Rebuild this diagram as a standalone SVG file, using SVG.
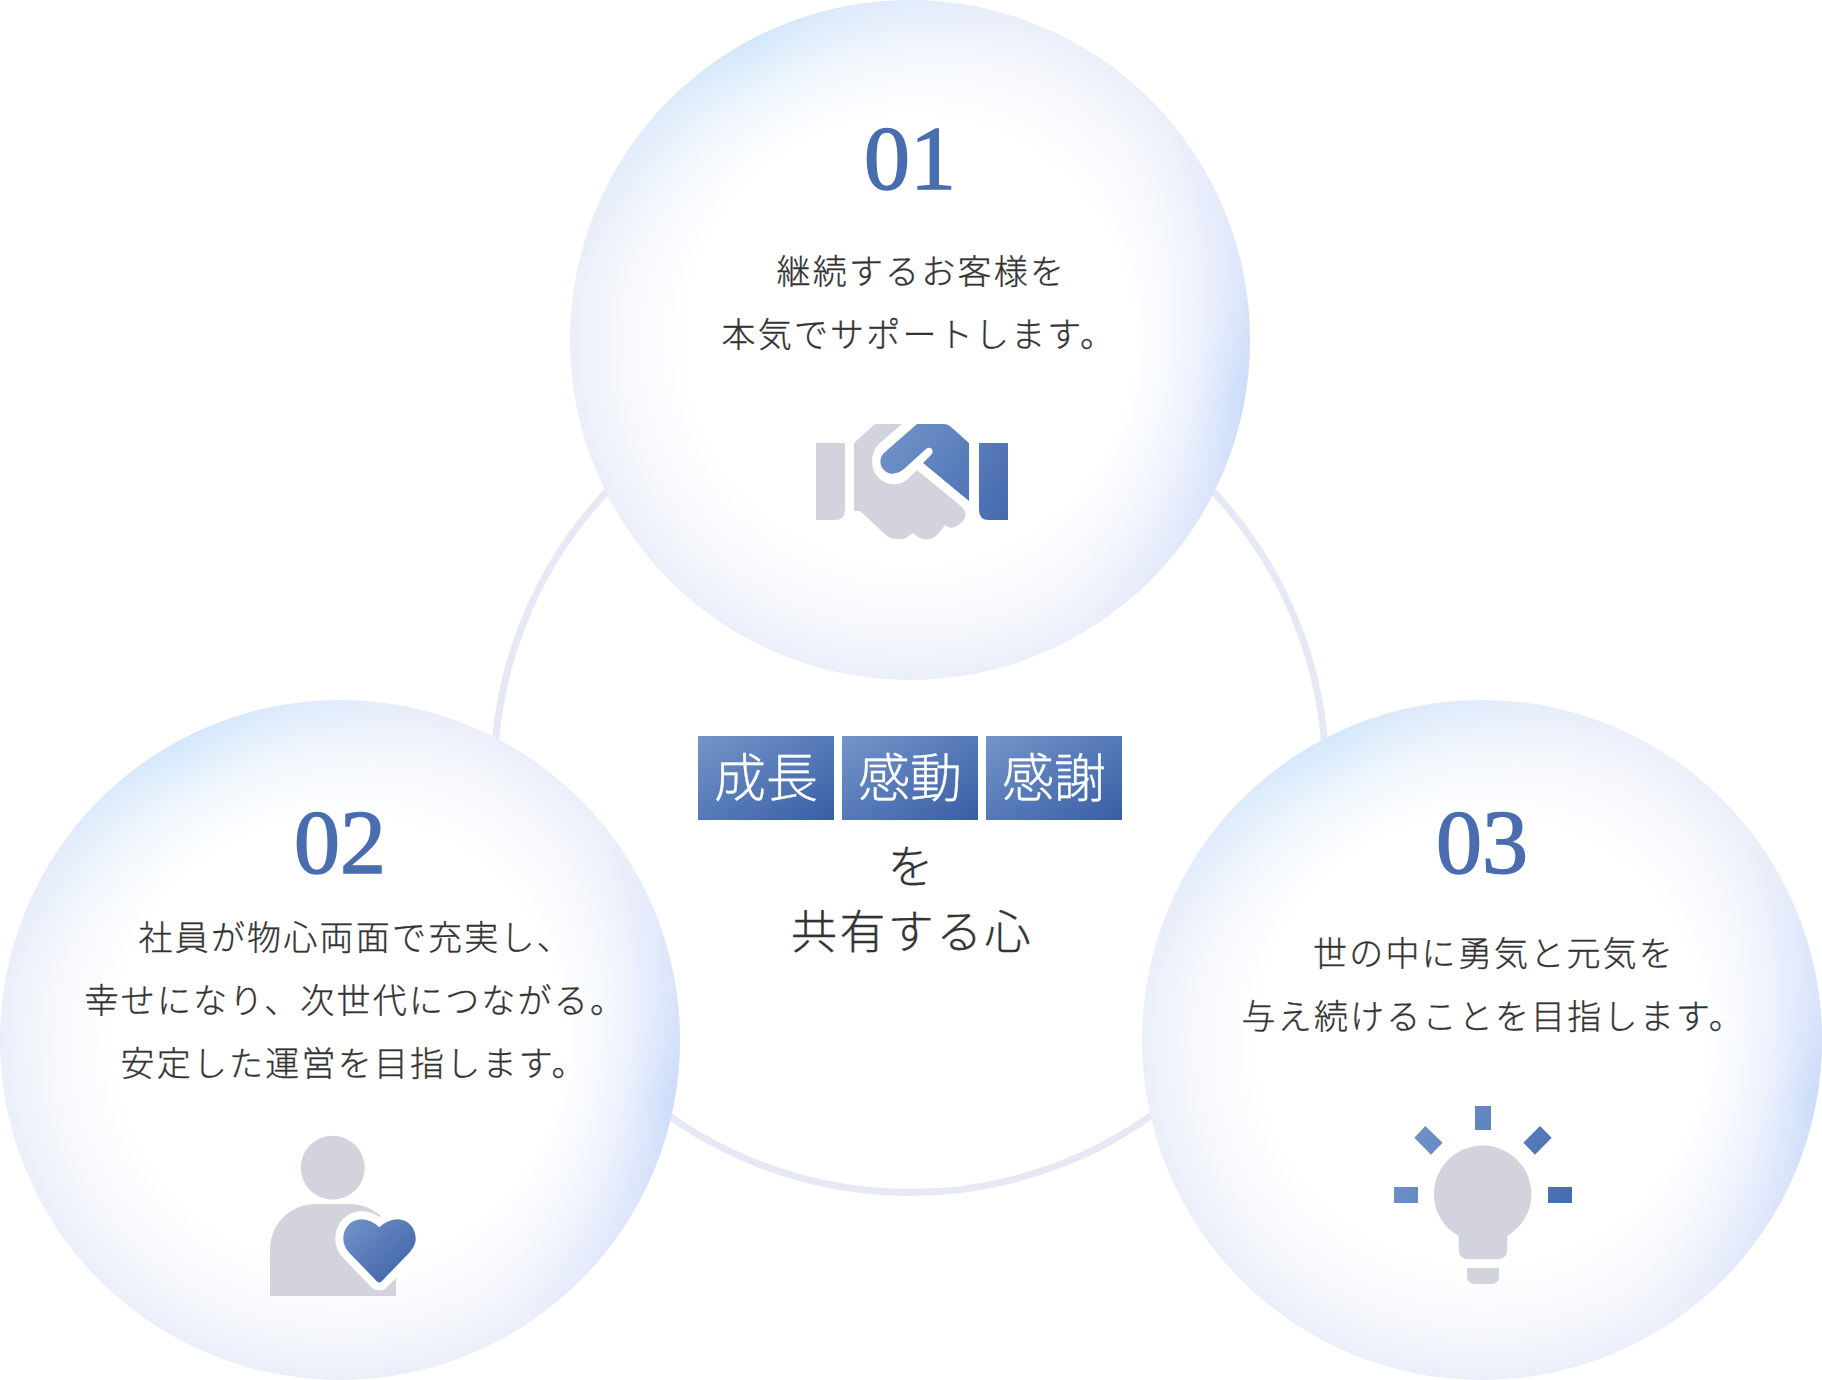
<svg xmlns="http://www.w3.org/2000/svg" width="1822" height="1380" viewBox="0 0 1822 1380">
<style>
.t{font-family:"Noto Sans CJK JP","Noto Sans",sans-serif;font-weight:300;font-size:34px;letter-spacing:2.2px;fill:#333;stroke:#333;stroke-width:.3}
.n{font-family:"Liberation Serif",serif;font-size:92px;fill:#4a6db0;text-anchor:middle;stroke:#4a6db0;stroke-width:1.6}
.k{font-family:"Noto Sans CJK JP","Noto Sans",sans-serif;font-weight:300;font-size:52px;fill:#fff;stroke:#fff;stroke-width:.3;text-anchor:middle}
.c{font-family:"Noto Sans CJK JP","Noto Sans",sans-serif;font-weight:300;font-size:46px;letter-spacing:2.4px;fill:#333;stroke:#333;stroke-width:.3}
.g{fill:#d3d3dd}
</style>
<defs>
<radialGradient id="w" cx=".5" cy=".5" r=".5"><stop offset=".66" stop-color="#fff"/><stop offset=".85" stop-color="#fff" stop-opacity=".58"/><stop offset="1" stop-color="#fff" stop-opacity="0"/></radialGradient>
<radialGradient id="s1" cx=".28" cy=".08" r=".42"><stop offset="0" stop-color="#d2e7fb"/><stop offset="1" stop-color="#d8e8fb" stop-opacity="0"/></radialGradient>
<radialGradient id="s2" cx=".98" cy=".58" r=".4"><stop offset="0" stop-color="#cbdbfb"/><stop offset="1" stop-color="#d4e0fb" stop-opacity="0"/></radialGradient>
<g id="orb"><circle r="340" fill="#ebeffa"/><circle r="340" fill="url(#s1)"/><circle r="340" fill="url(#s2)"/><circle r="340" fill="url(#w)"/></g>
<linearGradient id="b" x1="0" y1="0" x2="1" y2="1"><stop offset="0" stop-color="#7295c9"/><stop offset="1" stop-color="#3a5ea5"/></linearGradient>
<linearGradient id="hb" gradientUnits="userSpaceOnUse" x1="875" y1="435" x2="1000" y2="520"><stop offset="0" stop-color="#7295c9"/><stop offset="1" stop-color="#466bb0"/></linearGradient>
<linearGradient id="lb" gradientUnits="userSpaceOnUse" x1="1410" y1="1110" x2="1570" y2="1200"><stop offset="0" stop-color="#7295c9"/><stop offset="1" stop-color="#466bb0"/></linearGradient>
</defs>
<g id="connectors"><circle cx="910" cy="776.5" r="416" fill="none" stroke="#e6e9f5" stroke-width="7"/></g>
<g id="node-01"><use href="#orb" transform="translate(910 340)"/>
<text class="n" x="910" y="189">01</text>
<text class="t" x="776.5" y="284">継続するお客様を</text>
<text class="t" x="721.5" y="347">本気でサポートします。</text>
<path class="g" d="M816,443H845V510Q845,520 835,520H816Z"/>
<path class="g" d="M854,443L875,424H902L880,443C870,452 869,470 880,479C888,486 900,486 908,479L917,470L962,507C967,512 966,517 963,521L957,526C952,529 948,528 945,525L938,534C933,540 924,541 918,537L913,533L906,538C900,540 893,540 887,536L860,511H854Z"/>
<path fill="url(#hb)" d="M917,424H943Q948,424 951,427L969,443V501L923,463L931,455C935,451 931,445 926,449L904,469C897,475 888,475 884,470C879,465 879,457 885,452Z"/>
<path fill="url(#hb)" d="M979,443H1008V520H989Q979,520 979,510Z"/></g>
<g id="node-02"><use href="#orb" transform="translate(340 1040)"/>
<text class="n" x="340" y="873">02</text>
<text class="t" x="138.5" y="950">社員が物心両面で充実し、</text>
<text class="t" x="84.5" y="1013">幸せになり、次世代につながる。</text>
<text class="t" x="120.5" y="1076">安定した運営を目指します。</text>
<circle class="g" cx="332.7" cy="1167.7" r="32"/>
<path class="g" d="M270,1296V1250C270,1224 290,1204 316,1204H350C374,1204 396,1224 396,1250V1296Z"/>
<path fill="url(#b)" stroke="#fff" stroke-width="16" stroke-linejoin="round" paint-order="stroke" d="M379.3,1227.3C385,1222 392,1219.3 397.5,1219.3C408,1219.3 415.7,1228 415.7,1238.5C415.7,1244 413,1249 409,1253L381.5,1281.5Q379.3,1283.5 377,1281.5L349.5,1253C345.5,1249 343.3,1244 343.3,1238.5C343.3,1228 351,1219.3 361.5,1219.3C367,1219.3 374,1222 379.3,1227.3Z"/></g>
<g id="node-03"><use href="#orb" transform="translate(1482 1040)"/>
<text class="n" x="1482" y="873">03</text>
<text class="t" x="1313" y="965.5">世の中に勇気と元気を</text>
<text class="t" x="1241.5" y="1028.5">与え続けることを目指します。</text>
<path class="g" d="M1458.7,1236C1443,1227 1434,1212 1434,1194.3C1434,1167.4 1455.8,1145.6 1482.7,1145.6C1509.6,1145.6 1531.4,1167.4 1531.4,1194.3C1531.4,1212 1522,1227 1507.3,1236V1249Q1507.3,1259.3 1497,1259.3H1469Q1458.7,1259.3 1458.7,1249Z"/>
<path class="g" d="M1467,1268H1499V1276Q1499,1284 1491,1284H1475Q1467,1284 1467,1276Z"/>
<g fill="url(#lb)"><rect x="1475" y="1106" width="16" height="24"/><rect x="1394" y="1187" width="24" height="16"/><rect x="1548" y="1187" width="24" height="16"/><path d="M1425.3,1126L1442.6,1142.7L1431,1154.7L1414.3,1137.7Z"/><path d="M1540,1126L1551.7,1137.7L1535,1154.7L1523.3,1142.7Z"/></g></g>
<g id="center">
<rect x="698" y="736" width="136" height="84" fill="url(#b)"/><rect x="842" y="736" width="136" height="84" fill="url(#b)"/><rect x="986" y="736" width="136" height="84" fill="url(#b)"/>
<text class="k" x="766" y="797">成長</text><text class="k" x="910" y="797">感動</text><text class="k" x="1054" y="797">感謝</text>
<text class="c" x="887.5" y="883">を</text>
<text class="c" x="791" y="947.5">共有する心</text></g>
</svg>
